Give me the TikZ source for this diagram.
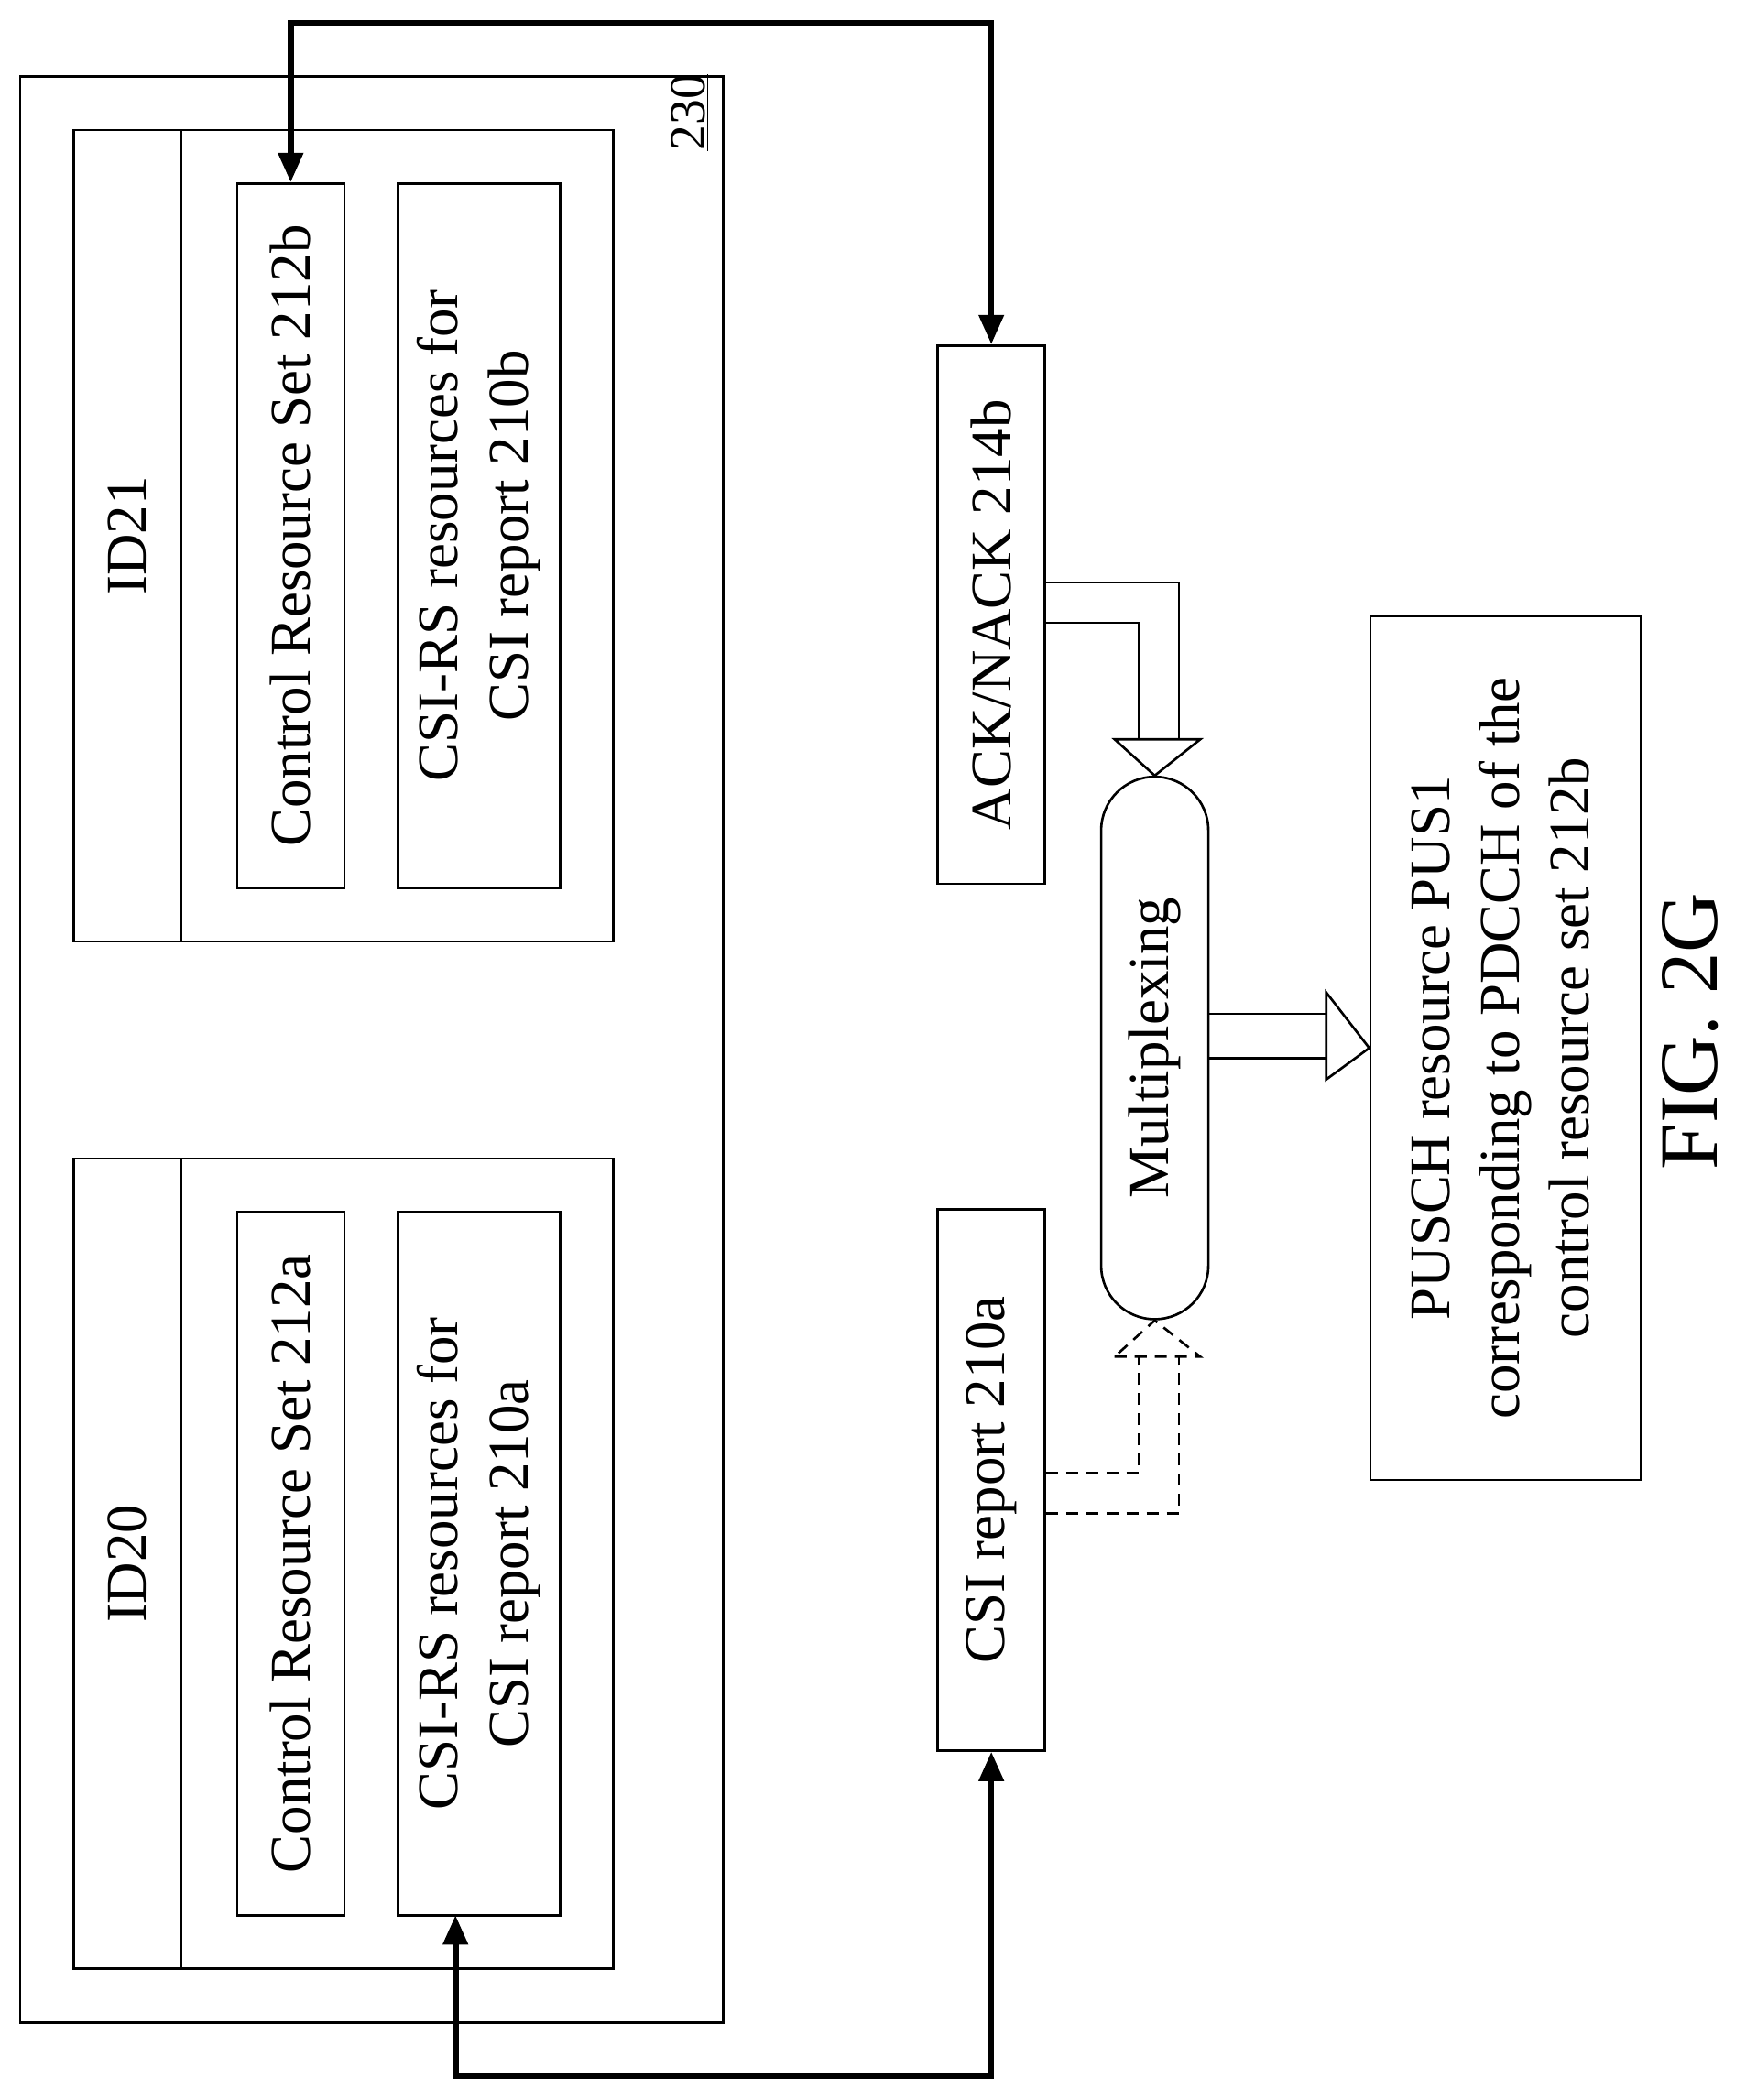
\documentclass[tikz,border=0pt]{standalone}
\usepackage{fontspec}
\setmainfont{Liberation Serif}
\usetikzlibrary{arrows.meta}
\begin{document}
\begin{tikzpicture}[x=1pt,y=-1pt,
  box/.style={draw,line width=1.8pt,inner sep=0pt,font=\fontsize{43}{52}\selectfont},
  thick arrow/.style={line width=4.5pt,{Triangle[length=22pt,width=18pt]}-{Triangle[length=22pt,width=18pt]}},
  hollow/.style={draw,line width=1.8pt,fill=white},
  dsh/.style={dash pattern=on 9pt off 6pt}]
\useasboundingbox (0,0) rectangle (1303,1568);
% outer 230
\node[box,minimum width=525,minimum height=1453] (outer) at (277.5,783.5) {};
\node[font=\fontsize{38}{44}\selectfont,rotate=90] (lbl) at (515,84) {\underline{230}};
% ID21 group
\node[box,minimum width=403,minimum height=606] (g21) at (256.5,400) {};
\draw[line width=1.8pt] (135,97) -- (135,703);
\node[box,draw=none] (id21) at (95,400) {\rotatebox{90}{ID21}};
\node[box,minimum width=80,minimum height=526] (crs212b) at (217,400) {\rotatebox{90}{Control Resource Set 212b}};
\node[box,minimum width=121,minimum height=526] (csirs210b) at (357.5,400) {\rotatebox{90}{\begin{tabular}{@{}c@{}}CSI-RS resources for\\CSI report 210b\end{tabular}}};
% ID20 group
\node[box,minimum width=403,minimum height=605] (g20) at (256.5,1167.5) {};
\draw[line width=1.8pt] (135,865) -- (135,1470);
\node[box,draw=none] (id20) at (95,1167.5) {\rotatebox{90}{ID20}};
\node[box,minimum width=80,minimum height=525] (crs212a) at (217,1167.5) {\rotatebox{90}{Control Resource Set 212a}};
\node[box,minimum width=121,minimum height=525] (csirs210a) at (357.5,1167.5) {\rotatebox{90}{\begin{tabular}{@{}c@{}}CSI-RS resources for\\CSI report 210a\end{tabular}}};
\coordinate (a210) at (340,1430);
% right side
\node[box,minimum width=80,minimum height=402] (ack) at (740,459) {\rotatebox{90}{ACK/NACK 214b}};
\node[box,minimum width=80,minimum height=404] (csi) at (740,1105) {\rotatebox{90}{CSI report 210a}};
\node[box,minimum width=80,minimum height=405,rounded corners=40pt] (mux) at (862,782.5) {\rotatebox{90}{Multiplexing}};
\node[box,minimum width=202,minimum height=645] (pusch) at (1124,782.5) {\rotatebox{90}{\begin{tabular}{@{}c@{}}PUSCH resource PUS1\\corresponding to PDCCH of the\\control resource set 212b\end{tabular}}};
\node[font=\fontsize{62}{72}\selectfont] (fig) at (1262,770) {\rotatebox{90}{FIG. 2G}};
% thick arrows
\draw[thick arrow] (crs212b.north) -- (217,17) -| (ack.north);
\draw[thick arrow] (a210) -- (340,1550) -| (csi.south);
% hollow arrow ACK -> mux
\draw[line width=1.8pt] (ack.east |- 0,435) -- (880,435) -- (880,552);
\draw[line width=1.8pt] (ack.east |- 0,465) -- (850,465) -- (850,552);
\path[hollow] (832,552) -- (896,552) -- (mux.north) -- cycle;
% dashed hollow arrow CSI -> mux
\draw[line width=1.8pt,dsh] (csi.east |- 0,1130) -- (880,1130) -- (880,1013);
\draw[line width=1.8pt,dsh] (csi.east |- 0,1100) -- (850,1100) -- (850,1013);
\path[hollow,dsh] (832,1013) -- (896,1013) -- (mux.south) -- cycle;
% hollow arrow mux -> pusch
\draw[line width=1.8pt] (mux.east |- 0,757) -- (990,757);
\draw[line width=1.8pt] (mux.east |- 0,790) -- (990,790);
\path[hollow] (990,741) -- (990,806) -- (pusch.west) -- cycle;
\end{tikzpicture}
\end{document}
